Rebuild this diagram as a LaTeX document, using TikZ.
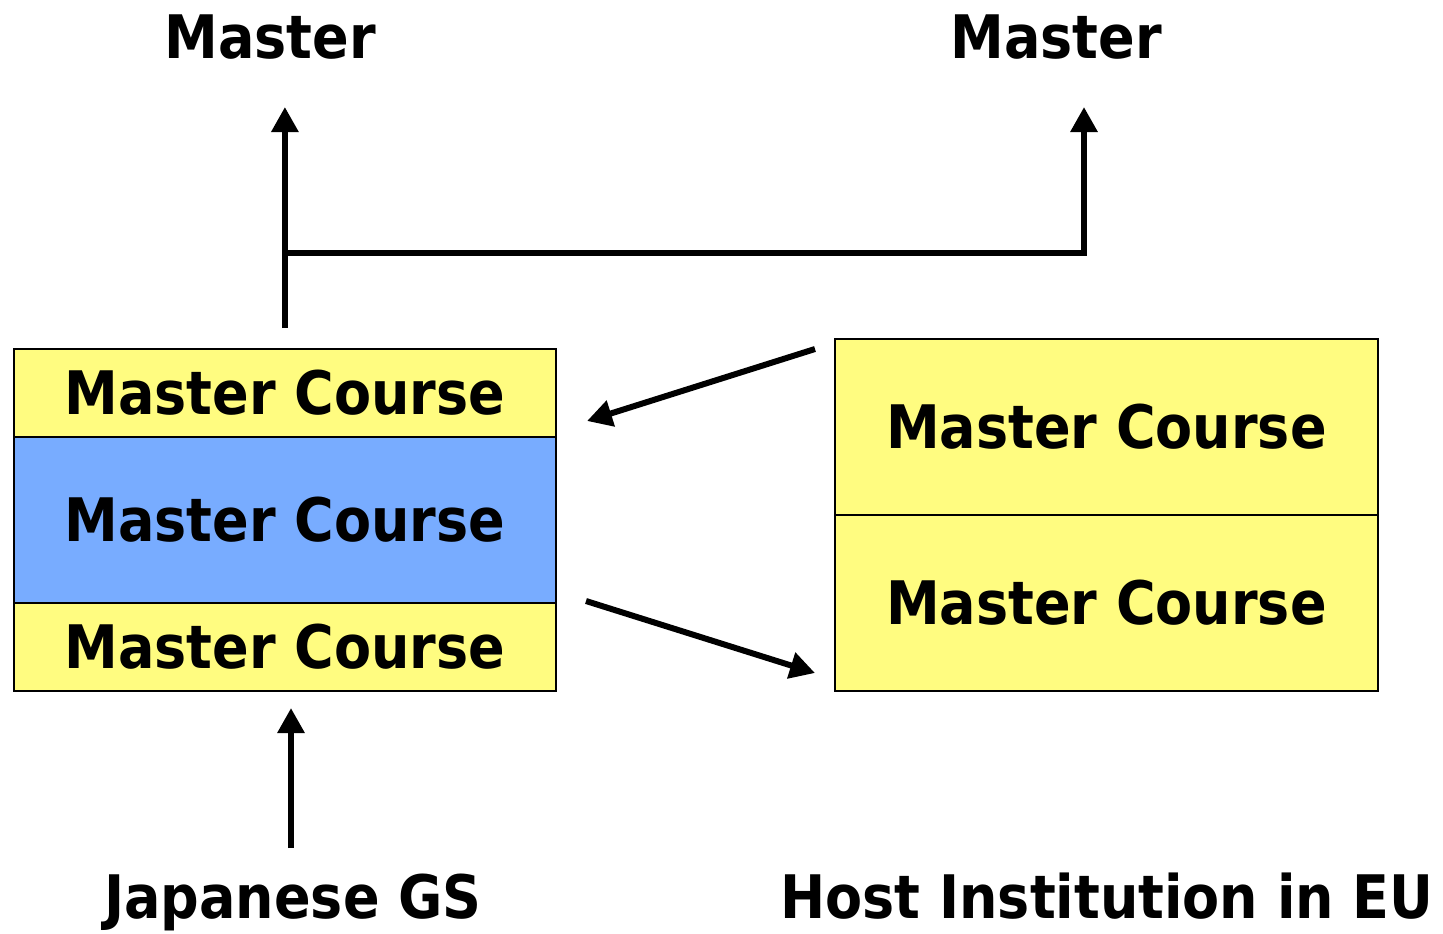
\documentclass[tikz,border=0pt]{standalone}
\usepackage{fontspec}
\usepackage{tikz}
\usetikzlibrary{arrows.meta}
\newfontfamily\labelfont{DejaVu Sans Condensed Bold}
\definecolor{mcyellow}{RGB}{255,252,128}
\definecolor{mcblue}{RGB}{120,172,255}

\begin{document}
\begin{tikzpicture}[x=0.5pt,y=-0.5pt,
				   every node/.style={font=\labelfont\fontsize{30}{36}\selectfont, text height=21.9pt, text depth=0pt, inner sep=0pt},
				   course/.style={draw=black, line width=0.9pt, anchor=north west, minimum width=271pt},
				   arr/.style={line width=3pt, -{Triangle[length=12.5pt,width=13pt]}}]
\useasboundingbox (0,0) rectangle (1443,933);
% left stack
\node[course, fill=mcyellow, minimum height=44pt] (mc1) at (13,348) {Master Course};
\node[course, fill=mcblue, minimum height=83pt] (mc2) at (13,436) {Master Course};
\node[course, fill=mcyellow, minimum height=44pt] (mc3) at (13,602) {Master Course};
% right stack
\node[course, fill=mcyellow, minimum height=88pt, minimum width=271.5pt] (hc1) at (834,338) {Master Course};
\node[course, fill=mcyellow, minimum height=88pt, minimum width=271.5pt] (hc2) at (834,514) {Master Course};
% labels
\node (mleft) at (270,37) {Master};
\node (mright) at (1056,37) {Master};
\node (jgs) at (293,897) {Japanese GS};
\node (host) at (1107,897) {Host Institution in EU};
% connectors
\coordinate (join) at (mc1.north |- 0,253);
\coordinate (tipl) at (mc1.north |- 0,107);
\coordinate (tipr) at (1084,107);
\draw[arr] ([yshift=10pt]mc1.north) -- (tipl);
\draw[arr, line join=miter] (join) -- (join -| tipr) -- (tipr);
\draw[arr] (815,349) -- (587,421);
\draw[arr] (586,601) -- (815,673);
\draw[arr] (291,848) -- (291,708);
\end{tikzpicture}
\end{document}
